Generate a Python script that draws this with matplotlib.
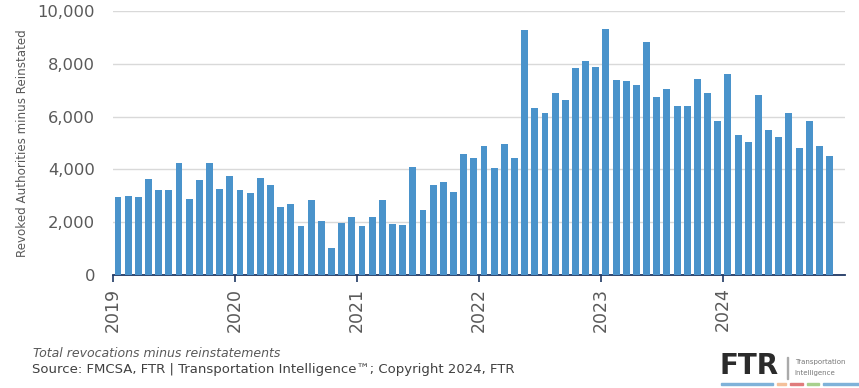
import numpy as np
import matplotlib.pyplot as plt
from matplotlib.patches import Rectangle

# monthly net revoked authorities, Jan 2019 .. Nov 2024
years = ["2019", "2020", "2021", "2022", "2023", "2024"]
revoked_net = [
    2970, 3000, 2940, 3640, 3210, 3220, 4250, 2870, 3610, 4230, 3250, 3760,  # 2019
    3210, 3120, 3660, 3420, 2560, 2680, 1870, 2850, 2030, 1020, 1970, 2180,  # 2020
    1860, 2200, 2850, 1940, 1910, 4090, 2460, 3420, 3540, 3140, 4600, 4430,  # 2021
    4890, 4050, 4980, 4440, 9290, 6310, 6150, 6880, 6630, 7850, 8110, 7890,  # 2022
    9330, 7370, 7340, 7200, 8840, 6760, 7030, 6400, 6400, 7410, 6880, 5850,  # 2023
    7630, 5290, 5030, 6820, 5490, 5240, 6150, 4810, 5850, 4890, 4510,        # 2024
]
n_months = 12 * len(years)

fig = plt.figure(figsize=(8.59, 3.88), dpi=100)
ax = fig.add_axes([0.1315, 0.2912, 0.852, 0.6804])

x = np.arange(len(revoked_net))
ax.bar(x, revoked_net, width=0.68, color="#4a93cb", zorder=3)

ax.set_xlim(-0.5, n_months - 0.5)
ax.set_ylim(0, 10000)
ax.set_yticks(np.arange(0, 10001, 2000))
ax.set_yticklabels([f"{v:,}" for v in range(0, 10001, 2000)])
ax.yaxis.grid(True, color="#d9d9d9", linewidth=1.0, zorder=0)
ax.tick_params(axis="y", length=0, pad=13, labelsize=11.8, labelcolor="#595959")

# year ticks sit on the boundaries between December and January
ax.set_xticks(np.arange(0, n_months, 12) - 0.5)
ax.set_xticklabels(years, rotation=90, va="top", ha="center")
ax.tick_params(axis="x", length=5, width=1.2, color="#1f3864", pad=4,
               labelsize=12.5, labelcolor="#595959")

for side in ("top", "right", "left"):
    ax.spines[side].set_visible(False)
ax.spines["bottom"].set_color("#1f3864")
ax.spines["bottom"].set_linewidth(1.3)

ax.set_ylabel("Revoked Authorities minus Reinstated", fontsize=8.6,
              color="#595959", labelpad=6)

fig.text(0.038, 0.089, "Total revocations minus reinstatements",
         fontsize=9.0, style="italic", color="#595959", va="center")
fig.text(0.037, 0.047, "Source: FMCSA, FTR | Transportation Intelligence\u2122; Copyright 2024, FTR",
         fontsize=9.5, color="#404040", va="center")

# FTR logo
fig.text(0.838, 0.056, "FTR", fontsize=20, fontweight="black", color="#2b2b2b",
         va="center")
fig.add_artist(Rectangle((0.916, 0.024), 0.0012, 0.056, transform=fig.transFigure,
                         color="#aaaaaa"))
fig.text(0.925, 0.067, "Transportation", fontsize=5, color="#777777", va="center")
fig.text(0.925, 0.039, "Intelligence", fontsize=5, color="#777777", va="center")
for x0, x1, c in [(721, 773, "#7fb2d9"), (777, 786, "#f4c09a"),
                  (790, 803, "#e07b7b"), (807, 819, "#a8d08d"),
                  (823, 859, "#7fb2d9")]:
    fig.add_artist(Rectangle((x0 / 859, 0.007), (x1 - x0) / 859, 0.007,
                             transform=fig.transFigure, color=c))

fig.savefig("out.png", dpi=100)
